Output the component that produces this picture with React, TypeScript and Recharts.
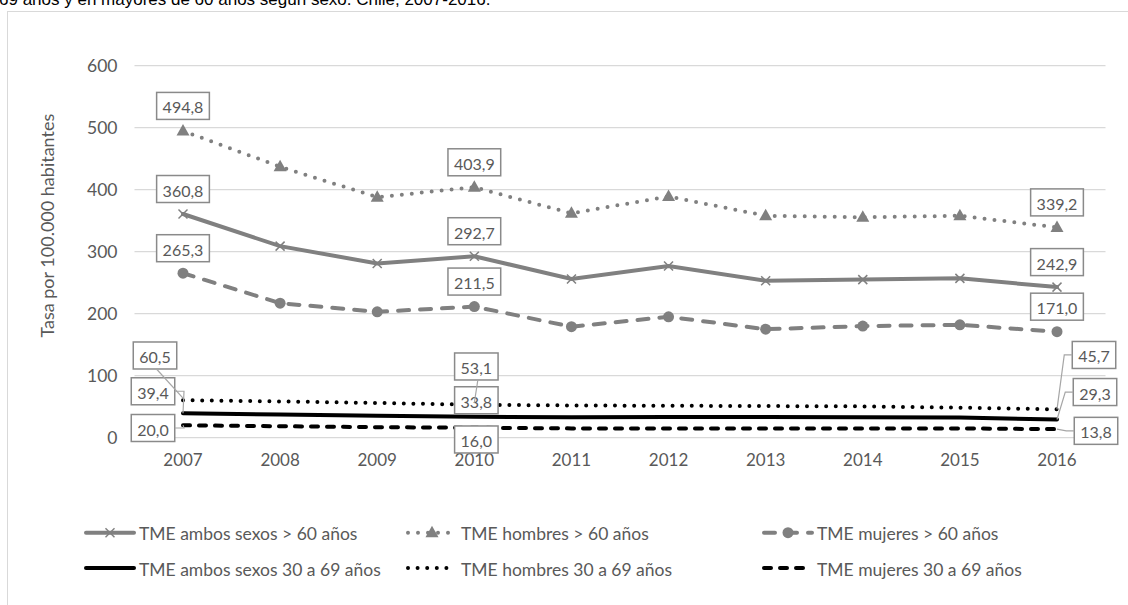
import { CartesianGrid, LabelList, Legend, Line, LineChart, XAxis, YAxis } from 'recharts'

// Tasas por 100.000 habitantes, 2007-2016
const years = ['2007', '2008', '2009', '2010', '2011', '2012', '2013', '2014', '2015', '2016']
const ambosMayores60 = [360.8, 309, 281, 292.7, 256, 277, 253, 255, 257, 242.9]
const hombresMayores60 = [494.8, 437, 388, 403.9, 362, 389, 358, 355.5, 358, 339.2]
const mujeresMayores60 = [265.3, 217, 203, 211.5, 179, 195, 175, 180, 182, 171.0]
const ambos30a69 = [39.4, 37.5, 35.5, 33.8, 33, 33.2, 33.2, 33, 32.5, 29.3]
const hombres30a69 = [60.5, 58.5, 56, 53.1, 52, 51.5, 51, 50.5, 48.5, 45.7]
const mujeres30a69 = [20.0, 18.5, 17, 16.0, 15, 15, 14.8, 14.8, 15, 13.8]
const yTicks = [0, 100, 200, 300, 400, 500, 600]

const GRAY = '#808080'
const INK = '#000000'
const TEXT = '#595959'
const GRID = '#d9d9d9'
const FONT = 'Lato, "Open Sans", sans-serif'

const chartData = years.map((year, i) => ({
  year,
  ambosMayores: ambosMayores60[i],
  hombresMayores: hombresMayores60[i],
  mujeresMayores: mujeresMayores60[i],
  ambos3069: ambos30a69[i],
  hombres3069: hombres30a69[i],
  mujeres3069: mujeres30a69[i],
}))

type MarkerKind = 'cross' | 'triangle' | 'circle' | 'none'

interface ISeries {
  key: string
  name: string
  color: string
  dash?: string
  marker: MarkerKind
}

const series: ISeries[] = [
  { key: 'ambosMayores', name: 'TME ambos sexos > 60 años', color: GRAY, marker: 'cross' },
  { key: 'hombresMayores', name: 'TME hombres > 60 años', color: GRAY, dash: '0 10', marker: 'triangle' },
  { key: 'mujeresMayores', name: 'TME mujeres > 60 años', color: GRAY, dash: '11 11', marker: 'circle' },
  { key: 'ambos3069', name: 'TME ambos sexos 30 a 69 años', color: INK, marker: 'none' },
  { key: 'hombres3069', name: 'TME hombres 30 a 69 años', color: INK, dash: '0 9.6', marker: 'none' },
  { key: 'mujeres3069', name: 'TME mujeres 30 a 69 años', color: INK, dash: '7 9', marker: 'none' },
]

// only these years carry a value box
const labelIndexes = [0, 3, 9]

type Leader = 'none' | 'left' | 'right' | 'bottom'
interface IPlace {
  dx: number
  dy: number
  leader: Leader
}
const above: IPlace = { dx: 0, dy: -25, leader: 'none' }
const placements: Record<string, IPlace[]> = {
  ambosMayores: [above, above, above],
  hombresMayores: [above, above, above],
  mujeresMayores: [above, above, above],
  mujeres3069: [
    { dx: -30, dy: 2.7, leader: 'right' },
    { dx: 2, dy: 11.7, leader: 'none' },
    { dx: 39, dy: 1.7, leader: 'left' },
  ],
  ambos3069: [
    { dx: -30, dy: -22, leader: 'right' },
    { dx: 2, dy: -16.5, leader: 'none' },
    { dx: 38, dy: -27.5, leader: 'left' },
  ],
  hombres3069: [
    { dx: -28, dy: -44.7, leader: 'bottom' },
    { dx: 2, dy: -38.3, leader: 'bottom' },
    { dx: 37, dy: -54.4, leader: 'left' },
  ],
}
// boxes are painted in this order so later leaders sit on top
const labelOrder = ['ambosMayores', 'hombresMayores', 'mujeresMayores', 'mujeres3069', 'ambos3069', 'hombres3069']

let measureCtx: CanvasRenderingContext2D | null = null
const measure = (s: string, size = 16) => {
  if (!measureCtx) measureCtx = document.createElement('canvas').getContext('2d')
  if (!measureCtx) return s.length * 8.5
  measureCtx.font = `${size}px Lato`
  return measureCtx.measureText(s).width
}

const fmt = (v: number) => v.toFixed(1).replace('.', ',')

const Marker = ({ kind, cx, cy, color }: { kind: MarkerKind; cx: number; cy: number; color: string }) => {
  if (kind === 'cross') {
    return (
      <g>
        <line x1={cx - 4.5} y1={cy - 4.5} x2={cx + 4.5} y2={cy + 4.5} stroke={color} strokeWidth={1.5} />
        <line x1={cx - 4.5} y1={cy + 4.5} x2={cx + 4.5} y2={cy - 4.5} stroke={color} strokeWidth={1.5} />
      </g>
    )
  }
  if (kind === 'triangle') {
    return <polygon points={`${cx},${cy - 7} ${cx - 6.5},${cy + 4.5} ${cx + 6.5},${cy + 4.5}`} fill={color} />
  }
  if (kind === 'circle') return <circle cx={cx} cy={cy} r={5.5} fill={color} />
  return null
}

const makeDot = (s: ISeries) => (props: any) => {
  const { cx, cy, index } = props
  if (s.marker === 'none' || cx == null || cy == null) return <g key={`${s.key}-${index}`} />
  return (
    <g key={`${s.key}-${index}`}>
      <Marker kind={s.marker} cx={cx} cy={cy} color={s.color} />
    </g>
  )
}

const makeLabel = (key: string) => (props: any) => {
  const { x, y, value, index } = props
  const slot = labelIndexes.indexOf(index)
  if (slot < 0 || value == null) return null
  const place = placements[key][slot]
  const text = fmt(Number(value))
  const w = measure(text) + 12
  const h = 27
  const cx = x + place.dx
  const cy = y + place.dy
  const left = cx - w / 2
  const right = cx + w / 2
  const bottom = cy + h / 2

  let leader = ''
  if (place.leader === 'right') leader = `M${right},${cy} L${x + 1},${cy} L${x},${y}`
  if (place.leader === 'left') leader = `M${left},${cy} L${left - 8},${cy} L${x},${y}`
  if (place.leader === 'bottom') leader = `M${cx + 1.5},${bottom} L${x},${y - 2}`

  return (
    <g key={`${key}-label-${index}`}>
      <rect x={left} y={cy - h / 2} width={w} height={h} fill="#ffffff" stroke="#8a8a8a" strokeWidth={1.5} />
      {leader && <path d={leader} fill="none" stroke="#a6a6a6" strokeWidth={1.2} />}
      <text x={cx} y={cy + 1} textAnchor="middle" dominantBaseline="central" fill={TEXT} fontSize={16} fontFamily={FONT}>
        {text}
      </text>
    </g>
  )
}

const YTitle = (props: any) => {
  const vb = props.viewBox || { x: 0, y: 0, width: 0, height: 0 }
  const x = vb.x + 47
  const y = vb.y + vb.height / 2 - 26
  return (
    <text x={x} y={y} transform={`rotate(-90 ${x} ${y})`} textAnchor="middle" dominantBaseline="central" fill={TEXT} fontSize={18} fontFamily={FONT}>
      Tasa por 100.000 habitantes
    </text>
  )
}

const LegendIcon = ({ s, x, y }: { s: ISeries; x: number; y: number }) => (
  <g>
    <line x1={x} y1={y} x2={x + 48} y2={y} stroke={s.color} strokeWidth={4} strokeDasharray={s.dash} strokeLinecap="round" />
    <Marker kind={s.marker} cx={x + 24} cy={y} color={s.color} />
  </g>
)

const legendCols = [85, 407, 763]
const legendRows = [22.7, 58]

const renderLegend = () => (
  <svg width={1128} height={80}>
    {series.map((s, i) => {
      const col = i % 3
      const row = Math.floor(i / 3)
      const x = legendCols[col]
      const y = legendRows[row]
      return (
        <g key={s.key}>
          <LegendIcon s={s} x={x + 1} y={y} />
          <text x={x + 54} y={y + 1} dominantBaseline="central" fill={TEXT} fontSize={17.5} fontFamily={FONT}>
            {s.name}
          </text>
        </g>
      )
    })}
  </svg>
)

const App = () => {
  const yTickStyle = { fill: TEXT, fontSize: 17.5, fontFamily: FONT }
  const xTickStyle = { fill: TEXT, fontSize: 17, fontFamily: FONT }
  return (
    <div style={{ position: 'absolute', left: 0, top: 0, width: 1128, height: 605, overflow: 'hidden', background: '#fff' }}>
      <svg style={{ position: 'absolute', left: 0, top: 0 }} width={1128} height={12}>
        <text x={-1} y={4.7} fontSize={17} fontFamily='"Liberation Sans", Arial, sans-serif' fill="#000">
          69 años y en mayores de 60 años según sexo. Chile, 2007-2016.
        </text>
      </svg>
      <div
        style={{
          position: 'absolute',
          left: 7,
          top: 11,
          width: 1300,
          height: 700,
          borderLeft: `1.5px solid ${GRID}`,
          borderTop: `1.5px solid ${GRID}`,
        }}
      />
      <div style={{ position: 'absolute', left: 0, top: 0 }}>
        <LineChart width={1128} height={605} data={chartData} margin={{ top: 65.7, right: 22.5, bottom: 137.3, left: 0 }}>
          <CartesianGrid vertical={false} stroke={GRID} strokeWidth={1.3} />
          <XAxis
            dataKey="year"
            scale="point"
            padding={{ left: 48.5, right: 48.5 }}
            axisLine={false}
            tickLine={false}
            tickSize={0}
            tickMargin={16.5}
            interval={0}
            height={30}
            tick={xTickStyle}
          />
          <YAxis
            domain={[0, 600]}
            ticks={yTicks}
            width={134.5}
            axisLine={false}
            tickLine={false}
            tickSize={0}
            tickMargin={17}
            tick={yTickStyle}
            label={<YTitle />}
          />
          <Legend
            layout="horizontal"
            verticalAlign="middle"
            align="center"
            content={renderLegend}
            wrapperStyle={{ position: 'absolute', left: 0, top: 510, width: 1128, height: 80 }}
          />
          {series.map((s) => (
            <Line
              key={s.key}
              type="linear"
              dataKey={s.key}
              name={s.name}
              stroke={s.color}
              strokeWidth={4}
              strokeDasharray={s.dash}
              strokeLinecap="round"
              dot={makeDot(s)}
              activeDot={false}
              isAnimationActive={false}
            />
          ))}
          {labelOrder.map((key) => (
            <Line
              key={`${key}-labels`}
              dataKey={key}
              stroke="none"
              dot={false}
              activeDot={false}
              legendType="none"
              isAnimationActive={false}
            >
              <LabelList dataKey={key} content={makeLabel(key)} />
            </Line>
          ))}
        </LineChart>
      </div>
    </div>
  )
}

export default App
